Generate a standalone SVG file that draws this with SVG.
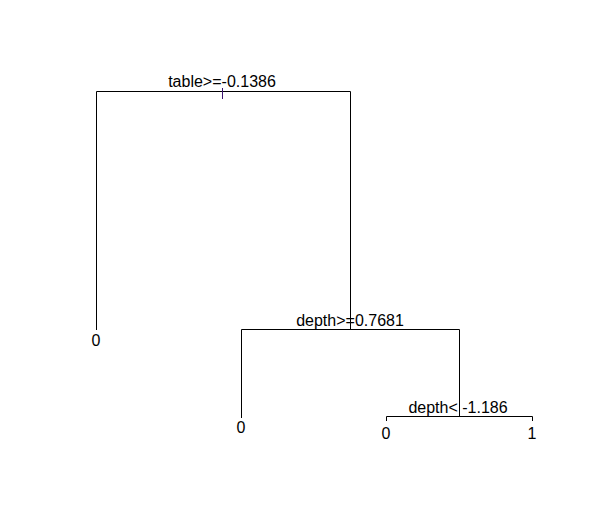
<svg xmlns="http://www.w3.org/2000/svg" width="590" height="532" viewBox="0 0 590 532">
<style>
.e{stroke:#000;stroke-width:1;fill:none}
.t{font-family:"Liberation Sans",Arial,sans-serif;font-size:16px;fill:#000;text-anchor:middle}
</style>
<rect width="590" height="532" fill="#fff"/>
<g id="connectors">
<path class="e" d="M96.5,330 V91.5 H350.5 V329.5"/>
<path class="e" d="M241.5,418 V329.5 H459.5 V416.5"/>
<path class="e" d="M386.5,421 V416.5 H532.5 V421"/>
<path d="M222.5,88 V99" stroke="#3c1470" stroke-width="1"/>
</g>
<g id="n1"><text class="t" x="222" y="87">table&gt;=-0.1386</text></g>
<g id="n2"><text class="t" x="96" y="346">0</text></g>
<g id="n3"><text class="t" x="350" y="326">depth&gt;=0.7681</text></g>
<g id="n4"><text class="t" x="241" y="433">0</text></g>
<g id="n5"><text class="t" x="458" y="413">depth&lt; -1.186</text></g>
<g id="n6"><text class="t" x="386" y="439">0</text></g>
<g id="n7"><text class="t" x="532" y="439">1</text></g>
</svg>
